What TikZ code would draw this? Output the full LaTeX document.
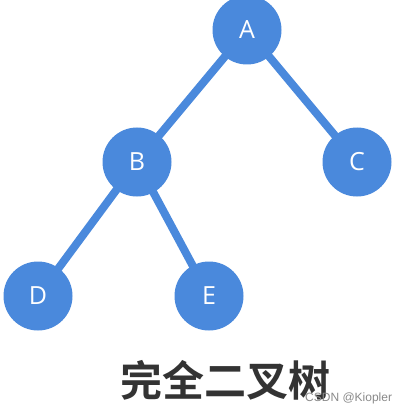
\documentclass[tikz,border=0pt]{standalone}
\usepackage{fontspec}
\setmainfont{Open Sans}
\newfontfamily\cjkbold{Noto Sans CJK SC Bold}
\newfontfamily\wmfont{Liberation Sans}
\usetikzlibrary{backgrounds}
\definecolor{nodeblue}{HTML}{4A89DC}
\definecolor{titlegray}{HTML}{333333}
\definecolor{wmgray}{HTML}{8A8A8A}
\begin{document}
\begin{tikzpicture}[x=1pt,y=-1pt,
  treenode/.style={circle,fill=nodeblue,minimum size=69pt,inner sep=0pt,text=white,font=\fontsize{25}{29}\selectfont},
  treeedge/.style={draw=nodeblue,line width=8pt}]
\useasboundingbox (0,0) rectangle (409,414);
\node[treenode] (A) at (247,30) {A};
\node[treenode] (B) at (137,162) {B};
\node[treenode] (C) at (357,162) {C};
\node[treenode] (D) at (38,296) {D};
\node[treenode] (E) at (209,296) {E};
\begin{scope}[on background layer]
\fill[white] (0,0) rectangle (409,414);
\draw[treeedge] (A.center) -- (B.center);
\draw[treeedge] (A.center) -- (C.center);
\draw[treeedge] (B.center) -- (D.center);
\draw[treeedge] (B.center) -- (E.center);
\end{scope}
\node[text=titlegray,font=\cjkbold\fontsize{42}{46}\selectfont,inner sep=0pt] (title) at (225,380) {完全二叉树};
\node[text=wmgray,font=\wmfont\fontsize{12}{14}\selectfont,inner sep=0pt,anchor=west] (wm) at (305,398) {CSDN @Kiopler};
\end{tikzpicture}
\end{document}
